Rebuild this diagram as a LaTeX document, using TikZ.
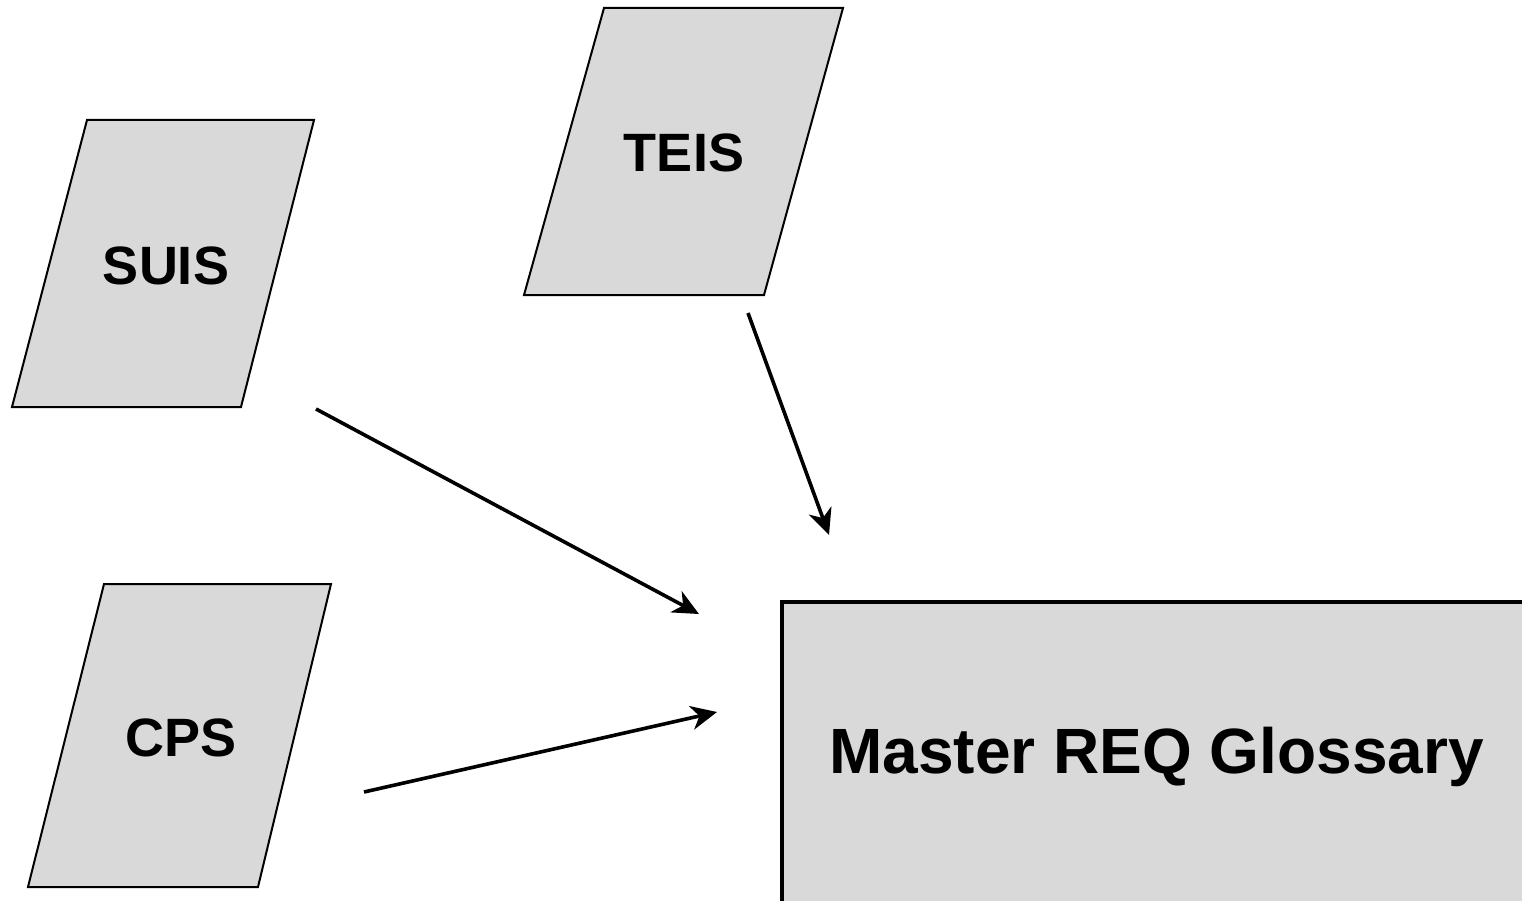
\documentclass[tikz,border=0pt]{standalone}
\usepackage{fontspec}
\setmainfont{Liberation Sans}
\usetikzlibrary{arrows.meta}
\usetikzlibrary{positioning}
\tikzstyle{doc} = [draw, fill=black!15, line width=2pt]
\tikzstyle{doclabel} = [font=\fontsize{54}{60}\selectfont\bfseries]
\tikzstyle{glossary} = [draw, fill=black!15, line width=3.5pt, anchor=north west,
    minimum width=750pt, minimum height=310pt, font=\fontsize{64}{70}\selectfont\bfseries]
\tikzstyle{input} = [coordinate]
\tikzstyle{output} = [coordinate]
\tikzstyle{flow} = [line width=3.6pt, -{Stealth[length=26pt,width=24pt,inset=8pt]}]

\begin{document}
\begin{tikzpicture}[x=1pt,y=-1pt]
    \path[use as bounding box] (0,0) rectangle (1522,901);
    \clip (0,0) rectangle (1522,901);

    % source documents
    \draw[doc] (87,120) -- (314,120) -- (241,407) -- (12,407) -- cycle;
    \node[doclabel] (suis) at (166,266) {SUIS};
    \draw[doc] (604,8) -- (843,8) -- (764,295) -- (524,295) -- cycle;
    \node[doclabel] (teis) at (684,153) {TEIS};
    \draw[doc] (104,584) -- (331,584) -- (258,887) -- (28,887) -- cycle;
    \node[doclabel] (cps) at (181,738) {CPS};

    % target
    \node[glossary] (glossary) at (780,600) {Master REQ Glossary};

    \node[input, name=suisout] at (316,409) {};
    \node[output, name=suisin] at (699,614) {};
    \node[input, name=teisout] at (748,313) {};
    \node[output, name=teisin] at (829,535) {};
    \node[input, name=cpsout] at (364,792) {};
    \node[output, name=cpsin] at (717,712) {};

    \draw[flow] (suisout) -- (suisin);
    \draw[flow] (teisout) -- (teisin);
    \draw[flow] (cpsout) -- (cpsin);
\end{tikzpicture}
\end{document}
